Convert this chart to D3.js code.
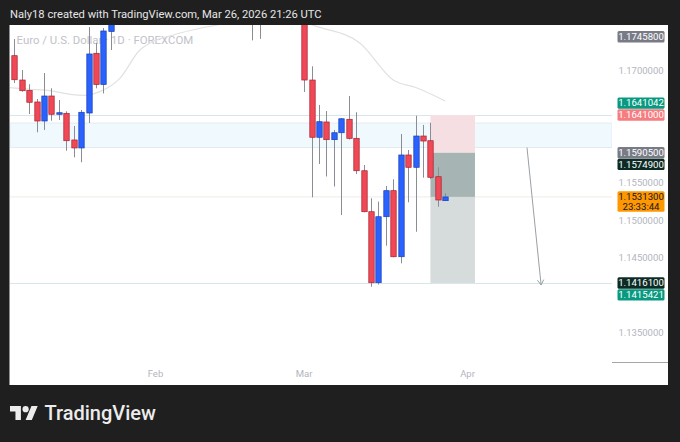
<!DOCTYPE html>
<html>
<head>
<meta charset="utf-8">
<script src="https://cdn.jsdelivr.net/npm/d3@7"></script>
<style>
    body { margin: 0; background: #1f1f1f; }
    svg { display: block; }
</style>
</head>
<body>
<script>
// EUR/USD daily candles (bars that sit above the pane are estimates)
const dates = [
    '2026-01-06','2026-01-07','2026-01-08','2026-01-09','2026-01-12','2026-01-13','2026-01-14','2026-01-15','2026-01-16','2026-01-19',
    '2026-01-20','2026-01-21','2026-01-22','2026-01-23','2026-01-26','2026-01-27','2026-01-28','2026-01-29','2026-01-30','2026-02-02',
    '2026-02-03','2026-02-04','2026-02-05','2026-02-06','2026-02-09','2026-02-10','2026-02-11','2026-02-12','2026-02-13','2026-02-16',
    '2026-02-17','2026-02-18','2026-02-19','2026-02-20','2026-02-23','2026-02-24','2026-02-25','2026-02-26','2026-02-27','2026-03-02',
    '2026-03-03','2026-03-04','2026-03-05','2026-03-06','2026-03-09','2026-03-10','2026-03-11','2026-03-12','2026-03-13','2026-03-16',
    '2026-03-17','2026-03-18','2026-03-19','2026-03-20','2026-03-23','2026-03-24','2026-03-25','2026-03-26','2026-03-27'
]
const opens = [
    1.17205,1.16879,1.16741,1.16585,1.16330,1.16665,1.16420,1.16433,1.16076,1.15969,
    1.16437,1.17237,1.16819,1.17529,1.1795,1.1826,1.1858,1.1889,1.1921,1.1968,
    1.1895,1.1825,1.1802,1.1846,1.1812,1.1836,1.1876,1.1871,1.1880,1.1853,
    1.1862,1.1829,1.1810,1.1795,1.1816,1.1852,1.1828,1.1811,1.1816,1.1805,
    1.16879,1.16112,1.16317,1.16080,1.16173,1.16353,1.16098,1.15664,1.15115,1.14164,
    1.15048,1.15397,1.14512,1.15875,1.15710,1.16129,1.16066,1.15584,1.15263
]
const highs = [
    1.17429,1.17013,1.16822,1.16625,1.16973,1.16768,1.16612,1.16460,1.16263,1.16478,
    1.17589,1.17375,1.17576,1.1812,1.1838,1.1869,1.1905,1.1932,1.2002,1.1991,
    1.1912,1.1851,1.1862,1.1870,1.1845,1.1895,1.1906,1.1893,1.1891,1.1878,
    1.1874,1.1856,1.1838,1.1832,1.1868,1.1870,1.1845,1.1830,1.1827,1.1812,
    1.17063,1.16545,1.16464,1.16210,1.16370,1.16665,1.16447,1.15741,1.15295,1.15250,
    1.15460,1.15549,1.16156,1.15942,1.16401,1.16277,1.16307,1.15710,1.15362
]
const lows = [
    1.16839,1.16723,1.16424,1.16179,1.16210,1.16334,1.16344,1.15932,1.15844,1.15777,
    1.16303,1.16768,1.16699,1.17281,1.1786,1.1812,1.1840,1.1866,1.1901,1.1878,
    1.1811,1.1778,1.1791,1.1798,1.1786,1.1826,1.1853,1.1844,1.1838,1.1827,
    1.1815,1.1796,1.1741,1.1743,1.1805,1.1816,1.1799,1.1788,1.1790,1.16719,
    1.15308,1.15754,1.15587,1.15453,1.15070,1.16082,1.15620,1.15107,1.14110,1.14140,
    1.14660,1.14504,1.14424,1.15241,1.14847,1.15571,1.15553,1.15182,1.15259
]
const closes = [
    1.16883,1.16736,1.16581,1.16330,1.16665,1.16420,1.16441,1.16066,1.15969,1.16447,
    1.17228,1.16819,1.17536,1.1795,1.1826,1.1858,1.1889,1.1921,1.1968,1.1895,
    1.1825,1.1802,1.1846,1.1812,1.1836,1.1876,1.1871,1.1880,1.1853,1.1862,
    1.1829,1.1810,1.1795,1.1816,1.1852,1.1828,1.1811,1.1816,1.1805,1.16879,
    1.16112,1.16321,1.16080,1.16173,1.16360,1.16098,1.15664,1.15115,1.14164,1.15048,
    1.15397,1.14512,1.15875,1.15710,1.16129,1.16062,1.15576,1.15272,1.15313
]

// moving average line (bar position, price)
const maBars   = [-0.6, 2.1, 4.8, 7.5, 9.5, 11.5, 14.2, 16.9, 18.2, 21.4, 25.0, 27.3, 31, 36, 41.1, 46.5, 51.0, 54.2, 58.0]
const maValues = [1.16776,1.16755,1.16736,1.16688,1.16674,1.16723,1.16902,1.17281,1.17371,1.17482,1.17572,1.17616,1.1772,1.1771,1.17585,1.17375,1.16879,1.16772,1.16598]

// time axis
const monthLabels = ['Feb', 'Mar', 'Apr']
const monthBars = [19, 39, 61]

// price axis
const priceTicks = [1.135, 1.14, 1.145, 1.15, 1.155, 1.16, 1.165, 1.17, 1.175]
const tagPrices = [1.17458, 1.1641, 1.15905, 1.15749, 1.15313, 1.14161, 1.1641042, 1.1415421]
const tagColors = ['#787b86', '#f77c80', '#787b86', '#0c2b24', '#ff9800', '#0c2b24', '#089981', '#089981']
const tagTexts  = ['#ffffff', '#ffffff', '#ffffff', '#ffffff', '#131722', '#ffffff', '#ffffff', '#ffffff']
const countdown = '23:33:44'

// drawings
const zoneTop = 1.16303, zoneBottom = 1.15975
const stopPrice = 1.1641, entryPrice = 1.15905, targetPrice = 1.14161
const toolBars = [56, 62]
const arrowBars = [69, 70.9], arrowPrices = [1.15975, 1.14133]

// 初始设置
let w = 680,
    h = 442
const pane = { left: 10, right: 612, top: 25, bottom: 362 }
const panelRight = 668, panelBottom = 385

let svg = d3.select('body').append('svg')
    .attr('width', w)
    .attr('height', h)
    .style('font-family', 'Roboto, "Liberation Sans", sans-serif')

let x = d3.scaleLinear().domain([-0.58, 80.44]).range([pane.left, pane.right])
let y = d3.scaleLinear().domain([1.13102, 1.17616]).range([pane.bottom, pane.top])

// header
svg.append('rect').attr('width', w).attr('height', h).attr('fill', '#1f1f1f')
svg.append('text')
    .attr('x', 10).attr('y', 18)
    .attr('fill', '#e6e6e6')
    .style('font-size', '11.2px')
    .text('Naly18 created with TradingView.com, Mar 26, 2026 21:26 UTC')

// white panel
svg.append('rect')
    .attr('x', 9.5).attr('y', 25)
    .attr('width', panelRight - 9.5).attr('height', panelBottom - 25)
    .attr('fill', '#ffffff')

svg.append('clipPath').attr('id', 'pane')
    .append('rect')
    .attr('x', pane.left).attr('y', pane.top)
    .attr('width', pane.right - pane.left).attr('height', pane.bottom - pane.top)

let plot = svg.append('g').attr('clip-path', 'url(#pane)')

// zone band + lines
plot.append('rect')
    .attr('x', pane.left).attr('width', pane.right - pane.left)
    .attr('y', y(zoneTop)).attr('height', y(zoneBottom) - y(zoneTop))
    .attr('fill', '#f0f9fd')
    .attr('stroke', '#e2ecf0').attr('stroke-width', 1)

plot.selectAll('line.level')
    .data([stopPrice, targetPrice])
    .enter().append('line')
    .attr('class', 'level')
    .attr('x1', pane.left).attr('x2', pane.right)
    .attr('y1', d => Math.round(y(d)) + 0.5).attr('y2', d => Math.round(y(d)) + 0.5)
    .attr('stroke', '#d8e6eb')

// current price line
plot.append('line')
    .attr('x1', pane.left).attr('x2', pane.right)
    .attr('y1', y(closes[closes.length - 1])).attr('y2', y(closes[closes.length - 1]))
    .attr('stroke', '#f1ece4')

// short position tool
let tx0 = x(toolBars[0]), tx1 = x(toolBars[1])
let lastClose = closes[closes.length - 1]
plot.append('rect')
    .attr('x', tx0).attr('width', tx1 - tx0)
    .attr('y', y(stopPrice)).attr('height', y(entryPrice) - y(stopPrice))
    .attr('fill', '#f6dfe3')
plot.append('rect')
    .attr('x', tx0).attr('width', tx1 - tx0)
    .attr('y', y(entryPrice)).attr('height', y(lastClose) - y(entryPrice))
    .attr('fill', '#a6b5b3')
plot.append('rect')
    .attr('x', tx0).attr('width', tx1 - tx0)
    .attr('y', y(lastClose)).attr('height', y(targetPrice) - y(lastClose))
    .attr('fill', '#d5dcdb')

// symbol legend (behind candles)
plot.append('text')
    .attr('x', 16.5).attr('y', 43.5)
    .attr('fill', '#bfc2c9')
    .style('font-size', '11.4px')
    .text('Euro / U.S. Dollar · 1D · FOREXCOM')

// moving average
plot.append('path')
    .datum(maBars.map((b, i) => [b, maValues[i]]))
    .attr('fill', 'none')
    .attr('stroke', '#e1e1e1')
    .attr('stroke-width', 1.2)
    .attr('d', d3.line().curve(d3.curveMonotoneX).x(d => x(d[0])).y(d => y(d[1])))

// candles
let candles = dates.map((d, i) => ({ date: d, i, o: opens[i], h: highs[i], l: lows[i], c: closes[i] }))
const bodyW = 5.4
let cell = plot.selectAll('g.candle')
    .data(candles)
    .enter().append('g')
    .attr('class', 'candle')

cell.append('line')
    .attr('x1', d => Math.round(x(d.i)) + 0.5).attr('x2', d => Math.round(x(d.i)) + 0.5)
    .attr('y1', d => y(d.h)).attr('y2', d => y(d.l))
    .attr('stroke', '#8a8d96')
    .attr('stroke-width', 1)

cell.append('rect')
    .attr('x', d => Math.round(x(d.i)) + 0.5 - bodyW / 2)
    .attr('width', bodyW)
    .attr('y', d => y(Math.max(d.o, d.c)))
    .attr('height', d => Math.max(1.2, Math.abs(y(d.o) - y(d.c))))
    .attr('fill', d => d.c >= d.o ? '#2962ff' : '#f04856')
    .attr('stroke', d => d.c >= d.o ? '#1a3fb0' : '#a8222e')
    .attr('stroke-width', 0.7)

// arrow
let ax0 = x(arrowBars[0]), ay0 = y(arrowPrices[0]), ax1 = x(arrowBars[1]), ay1 = y(arrowPrices[1])
let ang = Math.atan2(ay1 - ay0, ax1 - ax0)
plot.append('line')
    .attr('x1', ax0).attr('y1', ay0).attr('x2', ax1).attr('y2', ay1)
    .attr('stroke', '#9aa0a6').attr('stroke-width', 1)
plot.append('path')
    .attr('d', d3.line()([
        [ax1 - 6 * Math.cos(ang - 0.55), ay1 - 6 * Math.sin(ang - 0.55)],
        [ax1, ay1],
        [ax1 - 6 * Math.cos(ang + 0.55), ay1 - 6 * Math.sin(ang + 0.55)]
    ]))
    .attr('fill', 'none').attr('stroke', '#9aa0a6').attr('stroke-width', 1)

// price axis
let axisX = (pane.right + panelRight) / 2 + 1
svg.append('line')
    .attr('x1', pane.right).attr('x2', panelRight)
    .attr('y1', pane.bottom + 0.5).attr('y2', pane.bottom + 0.5)
    .attr('stroke', '#a3a6ad')

// price tags, later ones are pushed away from earlier ones
const tagH = 11.4, tagW = 47
let placed = []
let tags = tagPrices.map((p, i) => {
    let cy = y(p)
    let hh = i === 4 ? 20.5 : tagH
    let top = i === 4 ? cy - 5.7 : cy - hh / 2
    placed.forEach(o => {
        if (top < o.top + o.h && top + hh > o.top) {
            if (p >= o.p) top = o.top - hh - 0.5
            else top = o.top + o.h + 0.5
        }
    })
    let t = { p, top, h: hh, fill: tagColors[i], text: tagTexts[i], two: i === 4 }
    placed.push(t)
    return t
})

// tick labels that a tag covers are hidden
let freeTicks = priceTicks.filter(v => !tags.some(t => y(v) + 4 > t.top && y(v) - 4 < t.top + t.h))
svg.selectAll('text.tick')
    .data(freeTicks)
    .enter().append('text')
    .attr('class', 'tick')
    .attr('x', axisX).attr('y', d => y(d))
    .attr('dy', '0.35em')
    .attr('text-anchor', 'middle')
    .attr('fill', '#b2b5be')
    .style('font-size', '9.5px')
    .text(d => d.toFixed(7))

let tag = svg.selectAll('g.tag')
    .data(tags)
    .enter().append('g')
    .attr('class', 'tag')
tag.append('rect')
    .attr('x', axisX - tagW / 2).attr('width', tagW)
    .attr('y', d => d.top).attr('height', d => d.h)
    .attr('rx', 1.5)
    .attr('fill', d => d.fill)
tag.append('text')
    .attr('x', axisX).attr('y', d => d.top + 5.7)
    .attr('dy', '0.35em')
    .attr('text-anchor', 'middle')
    .attr('fill', d => d.text)
    .style('font-size', '9.6px')
    .text(d => d.p.toFixed(7))
tag.filter(d => d.two).append('text')
    .attr('x', axisX).attr('y', d => d.top + 15.2)
    .attr('dy', '0.35em')
    .attr('text-anchor', 'middle')
    .attr('fill', d => d.text)
    .style('font-size', '9.6px')
    .text(countdown)

// time axis
svg.selectAll('text.month')
    .data(monthLabels)
    .enter().append('text')
    .attr('class', 'month')
    .attr('x', (d, i) => x(monthBars[i]))
    .attr('y', 374).attr('dy', '0.35em')
    .attr('text-anchor', 'middle')
    .attr('fill', '#b2b5be')
    .style('font-size', '9.5px')
    .text(d => d)

// logo
let logo = svg.append('g').attr('transform', 'translate(10,402.9) scale(0.78)').attr('fill', '#ececec')
logo.append('path').attr('d', 'M14 22H7V11H0V4h14v18zM28 22h-8l7.5-18h8L28 22z')
logo.append('circle').attr('cx', 20).attr('cy', 8).attr('r', 4)
svg.append('text')
    .attr('x', 44.5).attr('y', 420)
    .attr('fill', '#ececec')
    .style('font-size', '20px')
    .style('font-weight', 500)
    .text('TradingView')
</script>
</body>
</html>
